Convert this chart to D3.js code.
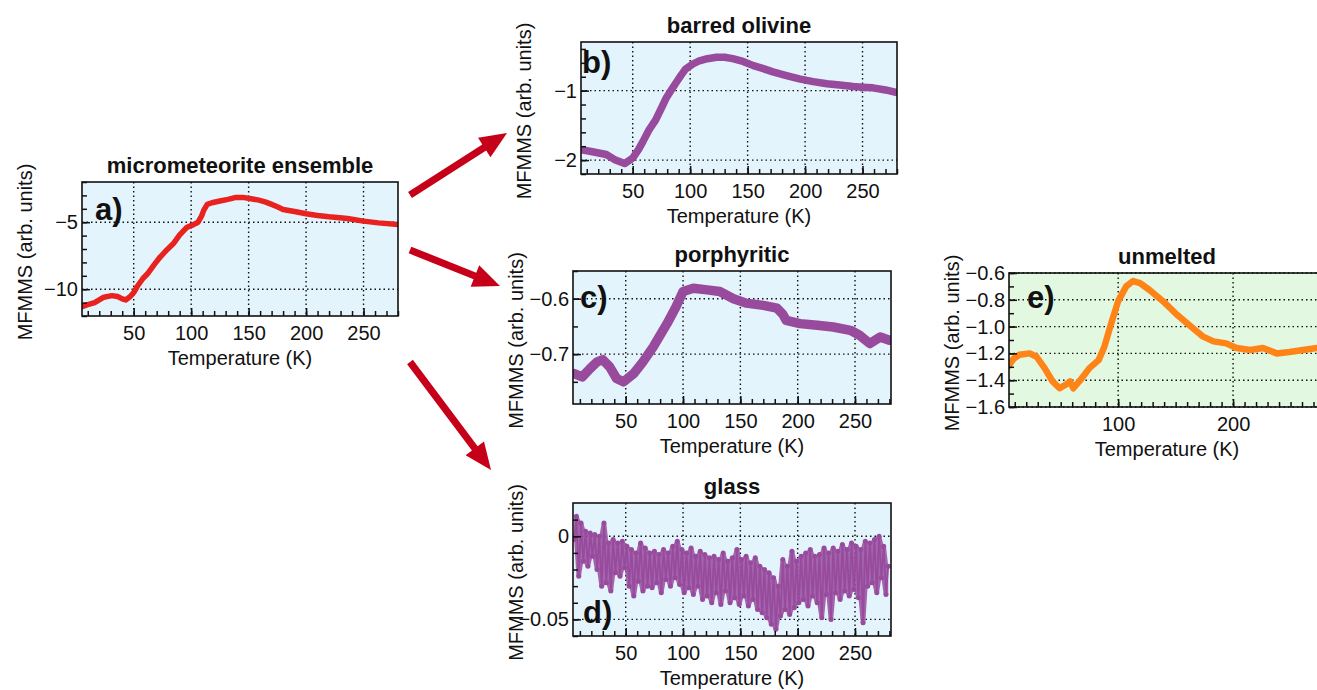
<!DOCTYPE html>
<html><head><meta charset="utf-8">
<script src="https://cdn.jsdelivr.net/npm/d3@7"></script>
<style>
body{margin:0;background:#fff}
svg{display:block;font-family:"Liberation Sans",Arial,Helvetica,sans-serif}
</style>
</head><body>
<svg id="chart" width="1317" height="690"></svg>
<script>
// ---------- data ----------
const titles = ["micrometeorite ensemble","barred olivine","porphyritic","glass","unmelted"];
const letters = ["a)","b)","c)","d)","e)"];

const tempA = [5,10,16,24,31,36,40,43,47,50,53,58,62,68,73,79,85,90,96,102,106,109,111,114,118,125,132,139,145,152,159,165,170,175,180,190,200,210,220,236,250,263,280];
const valA  = [-11.3,-11.15,-11.0,-10.6,-10.48,-10.55,-10.72,-10.8,-10.55,-10.25,-9.8,-9.2,-8.85,-8.15,-7.6,-7.05,-6.55,-5.95,-5.4,-5.18,-5.0,-4.55,-4.1,-3.67,-3.55,-3.42,-3.3,-3.15,-3.15,-3.25,-3.35,-3.5,-3.67,-3.85,-4.05,-4.2,-4.37,-4.5,-4.6,-4.72,-4.92,-5.05,-5.17];

const tempB = [5,15,27,35,43,50,55,59,64,70,75,79,84,88,92,96,102,108,115,123,130,137,146,155,163,172,183,195,207,219,230,242,250,259,270,280];
const valB  = [-1.85,-1.88,-1.92,-2.0,-2.05,-1.97,-1.85,-1.73,-1.57,-1.42,-1.25,-1.11,-0.98,-0.88,-0.78,-0.69,-0.62,-0.57,-0.54,-0.52,-0.52,-0.54,-0.58,-0.64,-0.68,-0.73,-0.78,-0.83,-0.87,-0.9,-0.92,-0.94,-0.95,-0.96,-0.99,-1.03];

const tempC = [5,12,19,25,30,36,42,48,57,65,74,86,94,100,109,121,132,144,155,170,182,187,190,202,217,231,246,254,263,272,280];
const valC  = [-0.735,-0.741,-0.726,-0.714,-0.71,-0.723,-0.744,-0.75,-0.735,-0.714,-0.687,-0.645,-0.614,-0.587,-0.581,-0.584,-0.587,-0.6,-0.608,-0.612,-0.617,-0.628,-0.639,-0.645,-0.648,-0.651,-0.657,-0.666,-0.681,-0.669,-0.675];

const tempD = [5,7,9,11,13,15,17,19,21,23,25,27,29,31,33,35,37,39,41,43,45,47,49,51,53,55,57,59,61,63,65,67,69,71,73,75,77,79,81,83,85,87,89,91,93,95,97,99,101,103,105,107,109,111,113,115,117,119,121,123,125,127,129,131,133,135,137,139,141,143,145,147,149,151,153,155,157,159,161,163,165,167,169,171,173,175,177,179,181,183,185,187,189,191,193,195,197,199,201,203,205,207,209,211,213,215,217,219,221,223,225,227,229,231,233,235,237,239,241,243,245,247,249,251,253,255,257,259,261,263,265,267,269,271,273,275,277,279];
const valD  = [-0.002,0.012,-0.024,0.008,-0.015,0.003,-0.018,0.002,-0.012,0.001,
  -0.020,0.000,-0.030,0.008,-0.028,-0.004,-0.033,-0.002,-0.022,-0.004,
  -0.024,-0.003,-0.019,-0.006,-0.030,-0.008,-0.036,-0.010,-0.027,-0.004,
  -0.033,-0.007,-0.030,-0.010,-0.031,-0.009,-0.028,-0.011,-0.034,-0.008,
  -0.026,-0.010,-0.030,-0.006,-0.025,-0.003,-0.029,-0.008,-0.034,-0.010,
  -0.031,-0.007,-0.035,-0.012,-0.030,-0.009,-0.038,-0.011,-0.036,-0.013,
  -0.040,-0.012,-0.034,-0.014,-0.041,-0.010,-0.033,-0.015,-0.040,-0.013,
  -0.037,-0.008,-0.041,-0.014,-0.036,-0.012,-0.042,-0.016,-0.038,-0.013,
  -0.044,-0.018,-0.046,-0.020,-0.049,-0.022,-0.053,-0.025,-0.056,-0.030,
  -0.048,-0.014,-0.044,-0.018,-0.047,-0.009,-0.043,-0.015,-0.040,-0.012,
  -0.038,-0.010,-0.042,-0.008,-0.036,-0.012,-0.040,-0.011,-0.049,-0.007,
  -0.035,-0.010,-0.050,-0.007,-0.034,-0.009,-0.038,-0.005,-0.033,-0.008,
  -0.036,-0.004,-0.032,-0.006,-0.037,-0.008,-0.052,-0.003,-0.030,-0.004,
  -0.028,-0.002,-0.034,0.000,-0.025,-0.006,-0.035,-0.018];

const tempE = [4,9,14,23,29,36,43,49,55,58,61,67,75,83,88,94,100,107,113,119,127,139,151,162,174,183,194,203,215,226,238,249,261,273,280];
const valE  = [-1.3,-1.24,-1.21,-1.2,-1.225,-1.31,-1.41,-1.46,-1.43,-1.41,-1.46,-1.4,-1.31,-1.25,-1.15,-0.975,-0.81,-0.7,-0.66,-0.675,-0.725,-0.81,-0.91,-0.99,-1.075,-1.11,-1.125,-1.16,-1.175,-1.16,-1.2,-1.19,-1.175,-1.16,-1.17];

// tick values
const xMajor = [50,100,150,200,250];
const xMajorE = [100,200];
const xMinor = [10,20,30,40,50,60,70,80,90,100,110,120,130,140,150,160,170,180,190,200,210,220,230,240,250,260,270,280];
const yMajorA = [-10,-5], yMinorA = [-12,-11,-10,-9,-8,-7,-6,-5,-4,-3,-2];
const yMajorB = [-2,-1], yMinorB = [-2.2,-2.0,-1.8,-1.6,-1.4,-1.2,-1.0,-0.8,-0.6,-0.4];
const yMajorC = [-0.7,-0.6], yMinorC = [-0.75,-0.7,-0.65,-0.6,-0.55];
const yMajorD = [-0.05,0], yMinorD = [-0.06,-0.05,-0.04,-0.03,-0.02,-0.01,0,0.01];
const yMajorE = [-1.6,-1.4,-1.2,-1.0,-0.8,-0.6], yMinorE = [-1.6,-1.5,-1.4,-1.3,-1.2,-1.1,-1.0,-0.9,-0.8,-0.7,-0.6];

// ---------- layout ----------
const BLUE = "#e4f4fd", GREEN = "#e2f8e0";
const panels = [
  {T:tempA,V:valA,color:"#e8221e",sw:5.5, left:82, top:182,w:316,h:134,xd:[5,280],  yd:[-12,-2],   xM:xMajor, yM:yMajorA,ym:yMinorA,bg:BLUE, fmt:d3.format("d"),   lp:[13,38]},
  {T:tempB,V:valB,color:"#984b9d",sw:7.5, left:581,top:42, w:316,h:132,xd:[5,280],  yd:[-2.2,-0.3], xM:xMajor, yM:yMajorB,ym:yMinorB,bg:BLUE, fmt:d3.format("d"),   lp:[1,31]},
  {T:tempC,V:valC,color:"#984b9d",sw:9.5, left:573,top:271,w:318,h:133,xd:[4,281.4],yd:[-0.79,-0.55],xM:xMajor,yM:yMajorC,ym:yMinorC,bg:BLUE, fmt:d3.format(".1f"), lp:[7,37]},
  {T:tempD,V:valD,color:"#984b9d",sw:1.8,left:573,top:503,w:318,h:133,xd:[4,281.4],yd:[-0.06,0.02],xM:xMajor, yM:yMajorD,ym:yMinorD,bg:BLUE, fmt:v=>v===0?"0":d3.format(".2f")(v), lp:[10,120], dots:true},
  {T:tempE,V:valE,color:"#ff8418",sw:6.5, left:1009,top:273,w:316,h:134,xd:[5,280], yd:[-1.6,-0.6], xM:xMajorE,yM:yMajorE,ym:yMinorE,bg:GREEN,fmt:d3.format(".1f"), lp:[18,35]}
];
const arrows = [[410,195,507,133],[410,250,500,286],[410,362,491,470]];

const svg = d3.select("#chart");
const defs = svg.append("defs");

panels.forEach((p,i)=>{
  const x = d3.scaleLinear().domain(p.xd).range([0,p.w]);
  const y = d3.scaleLinear().domain(p.yd).range([p.h,0]);
  const g = svg.append("g").attr("transform",`translate(${p.left},${p.top})`);
  const cid = "clip"+i;
  defs.append("clipPath").attr("id",cid).append("rect").attr("width",p.w).attr("height",p.h);

  g.append("rect").attr("width",p.w).attr("height",p.h).attr("fill",p.bg);

  // grid
  const grid = g.append("g").attr("stroke","#111").attr("stroke-width",1.4).attr("stroke-dasharray","1.5,3");
  p.xM.forEach(v=>grid.append("line").attr("x1",x(v)).attr("x2",x(v)).attr("y1",0).attr("y2",p.h));
  p.yM.forEach(v=>grid.append("line").attr("y1",y(v)).attr("y2",y(v)).attr("x1",0).attr("x2",p.w));

  // data
  const dg = g.append("g").attr("clip-path",`url(#${cid})`);
  const pts = p.T.map((t,k)=>[t,p.V[k]]);
  if(p.dots){
    // dense noisy band: fill between each sample and its neighbours
    const band = pts.map((d,k)=>{
      const nb = [p.V[Math.max(0,k-1)], d[1], p.V[Math.min(pts.length-1,k+1)]];
      return [d[0], d3.min(nb), d3.max(nb)];
    });
    dg.append("path").datum(band)
      .attr("d", d3.area().x(d=>x(d[0])).y0(d=>y(d[1])).y1(d=>y(d[2])))
      .attr("fill",p.color).attr("opacity",0.85);
  }
  dg.append("path").datum(pts)
    .attr("d", d3.line().x(d=>x(d[0])).y(d=>y(d[1])))
    .attr("fill","none").attr("stroke",p.color).attr("stroke-width",p.sw)
    .attr("stroke-linejoin","round").attr("stroke-linecap","round");
  if(p.dots){
    dg.selectAll("circle").data(pts).join("circle")
      .attr("cx",d=>x(d[0])).attr("cy",d=>y(d[1])).attr("r",2.5).attr("fill",p.color);
  }

  // axes (ticks inside)
  const fs = "20px";
  const bx = g.append("g").attr("transform",`translate(0,${p.h})`)
    .call(d3.axisBottom(x).tickValues(p.xM).tickSize(-8).tickPadding(10).tickFormat(d3.format("d")));
  const bxm = g.append("g").attr("transform",`translate(0,${p.h})`)
    .call(d3.axisBottom(x).tickValues(xMinor.filter(v=>v>=p.xd[0]&&v<=p.xd[1])).tickSize(-5).tickFormat(""));
  const ly = g.append("g").call(d3.axisLeft(y).tickValues(p.yM).tickSize(-8).tickPadding(4).tickFormat(p.fmt));
  const lym = g.append("g").call(d3.axisLeft(y).tickValues(p.ym).tickSize(-5).tickFormat(""));
  [bx,bxm,ly,lym].forEach(a=>{
    a.select(".domain").remove();
    a.selectAll("line").attr("stroke","#111").attr("stroke-width",1.5);
    a.selectAll("text").attr("font-size",fs).attr("fill","#111");
    a.attr("font-family",null).attr("font-size",null);
  });

  // frame
  g.append("rect").attr("width",p.w).attr("height",p.h).attr("fill","none").attr("stroke","#111").attr("stroke-width",1.6);

  // titles & labels
  g.append("text").attr("x",p.w/2).attr("y",-9).attr("text-anchor","middle")
    .attr("font-size","22px").attr("font-weight","bold").attr("fill","#111").text(titles[i]);
  g.append("text").attr("x",p.w/2).attr("y",p.h+49).attr("text-anchor","middle")
    .attr("font-size","20px").attr("fill","#111").text("Temperature (K)");
  g.append("text").attr("transform",`translate(-57,${p.h/2+3}) rotate(-90)`)
    .attr("text-anchor","middle").attr("dy","0.35em")
    .attr("font-size","20px").attr("fill","#111").text("MFMMS (arb. units)");
  g.append("text").attr("x",p.lp[0]).attr("y",p.lp[1])
    .attr("font-size","31px").attr("font-weight","bold").attr("fill","#111").text(letters[i]);
});

// arrows
arrows.forEach(([x1,y1,x2,y2])=>{
  const dx=x2-x1, dy=y2-y1, L=Math.hypot(dx,dy), ux=dx/L, uy=dy/L, nx=-uy, ny=ux;
  const sw=3.6, hl=27, hw=11.5;
  const bxp=x2-ux*hl, byp=y2-uy*hl;
  const poly=[[x1+nx*sw,y1+ny*sw],[bxp+nx*sw,byp+ny*sw],[bxp+nx*hw,byp+ny*hw],[x2,y2],
              [bxp-nx*hw,byp-ny*hw],[bxp-nx*sw,byp-ny*sw],[x1-nx*sw,y1-ny*sw]];
  svg.append("polygon").attr("points",poly.map(q=>q.join(",")).join(" ")).attr("fill","#c7001a");
});
</script>
</body></html>
